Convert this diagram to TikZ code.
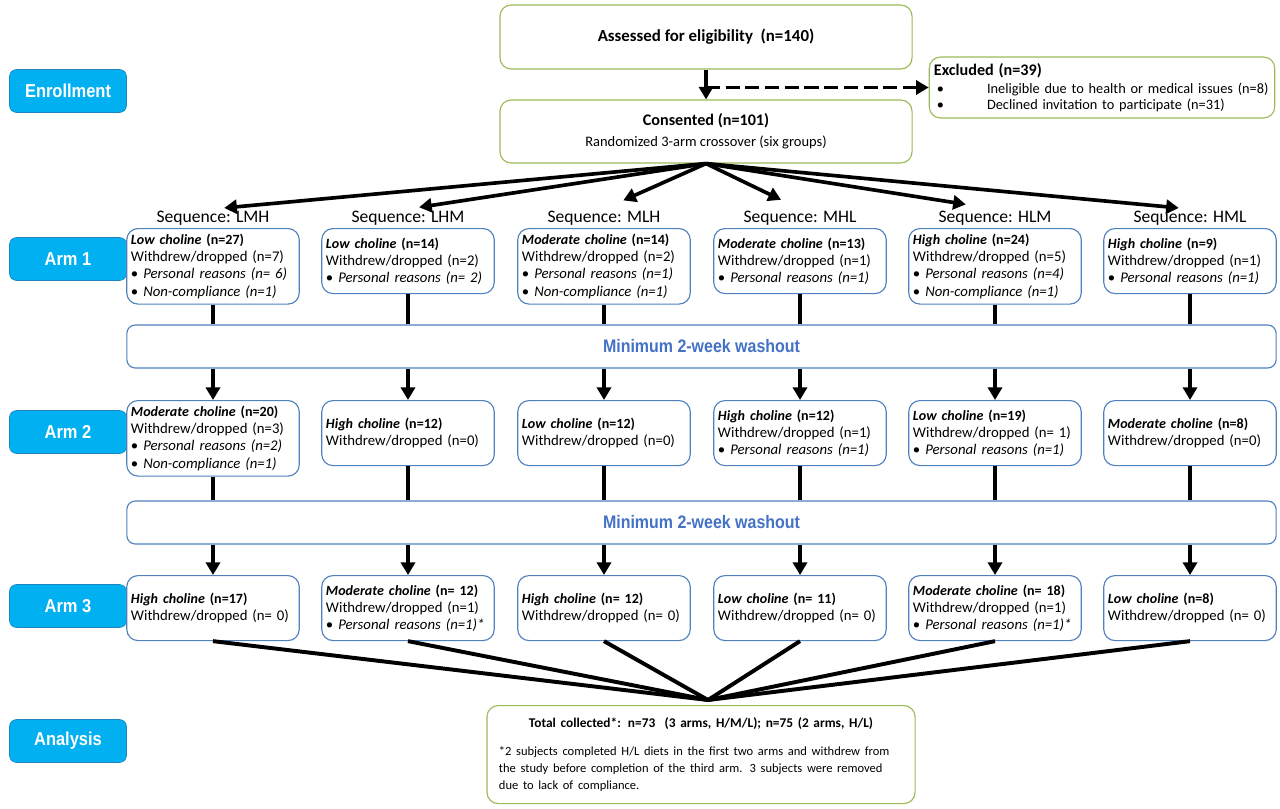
\documentclass[tikz,border=0pt]{standalone}
\usepackage{fontspec}
\setmainfont{Carlito}
\newfontfamily\tagfont[FakeStretch=0.88]{Liberation Sans}
\usepackage{xcolor}
\usepackage{tikz}
\usetikzlibrary{calc, positioning, arrows.meta}
\definecolor{tagBlue}{RGB}{0,176,240}
\definecolor{tagEdge}{RGB}{30,130,190}
\definecolor{boxGreen}{RGB}{155,187,89}
\definecolor{boxBlue}{RGB}{79,129,189}
\definecolor{washText}{RGB}{68,114,196}
\newcommand{\dietHead}[2]{{\fontsize{10}{12.2}\selectfont\textbf{\textit{#1}} \textbf{#2}}}
\tikzset{
    phaseTag/.style={rectangle, rounded corners=5pt, draw=tagEdge, fill=tagBlue, text=white, font=\tagfont\bfseries\fontsize{13.3}{15}\selectfont, minimum width=2.925cm, minimum height=1.075cm},
    flowBox/.style={rectangle, rounded corners=8pt, draw=boxGreen, thick, fill=white, align=center},
    armBox/.style={rectangle, rounded corners=8pt, draw=boxBlue, thick, fill=white, anchor=north, text width=4.1cm, inner xsep=3pt, inner ysep=4pt, minimum height=1.625cm, align=left, font=\fontsize{10.5}{12.2}\selectfont},
    washBar/.style={rectangle, rounded corners=6pt, draw=boxBlue, thick, fill=white, minimum width=28.725cm, minimum height=1.075cm, text=washText, font=\tagfont\bfseries\fontsize{12.9}{15}\selectfont},
    seqLabel/.style={font=\fontsize{12.5}{14}\selectfont, inner sep=1pt},
    arrow/.style={-{Triangle[length=9pt,width=10pt]}, line width=2.6pt},
    dashArrow/.style={-{Triangle[length=9pt,width=10pt]}, line width=2.6pt, dash pattern=on 10pt off 4pt},
    link/.style={line width=2.8pt}
}

\begin{document}
\begin{tikzpicture}[x=0.025cm, y=-0.025cm]
    \useasboundingbox (0,0) rectangle (1280,808);

    % Phase tags
    \node[phaseTag] (Enroll) at (68,91) {Enrollment};
    \node[phaseTag] (ArmOne) at (68,259) {Arm 1};
    \node[phaseTag] (ArmTwo) at (68,432) {Arm 2};
    \node[phaseTag] (ArmThree) at (68,606) {Arm 3};
    \node[phaseTag] (Analysis) at (68,741) {Analysis};

    % Enrollment
    \node[flowBox, minimum width=10.3cm, minimum height=1.6cm, font=\bfseries\fontsize{12}{14}\selectfont] (Assess) at (706,37) {Assessed for eligibility\ \ (n=140)};
    \node[flowBox, align=left, text width=8.4cm, minimum height=1.525cm, inner ysep=2pt, font=\fontsize{10.2}{11.5}\selectfont] (Excl) at (1102,87.5) {{\fontsize{11.5}{13}\selectfont\textbf{Excluded (n=39)}}\\[1pt]
        \hspace*{0.2em}\textbullet\hspace{3em}Ineligible due to health or medical issues (n=8)\\
        \hspace*{0.2em}\textbullet\hspace{3em}Declined invitation to participate (n=31)};
    \node[flowBox, minimum width=10.3cm, minimum height=1.575cm] (Consent) at (706,131.5) {{\fontsize{11.5}{13}\selectfont\textbf{Consented (n=101)}}\\[3pt]
        {\fontsize{10.3}{12}\selectfont Randomized 3-arm crossover (six groups)}};

    \draw[arrow] (Assess) -- (Consent);
    \draw[dashArrow] (Assess.south |- Excl.west) -- (Excl.west);

    % Arm 1
    \node[armBox] (LmhA) at (213,228) {\dietHead{Low choline}{(n=27)}\\ Withdrew/dropped (n=7)\\ \textbullet\ \textit{Personal reasons (n= 6)}\\ \textbullet\ \textit{Non-compliance (n=1)}};
    \node[armBox] (LhmA) at (408,228) {\dietHead{Low choline}{(n=14)}\\ Withdrew/dropped (n=2)\\ \textbullet\ \textit{Personal reasons (n= 2)}};
    \node[armBox] (MlhA) at (604,228) {\dietHead{Moderate choline}{(n=14)}\\ Withdrew/dropped (n=2)\\ \textbullet\ \textit{Personal reasons (n=1)}\\ \textbullet\ \textit{Non-compliance (n=1)}};
    \node[armBox] (MhlA) at (800,228) {\dietHead{Moderate choline}{(n=13)}\\ Withdrew/dropped (n=1)\\ \textbullet\ \textit{Personal reasons (n=1)}};
    \node[armBox] (HlmA) at (995,228) {\dietHead{High choline}{(n=24)}\\ Withdrew/dropped (n=5)\\ \textbullet\ \textit{Personal reasons (n=4)}\\ \textbullet\ \textit{Non-compliance (n=1)}};
    \node[armBox] (HmlA) at (1190,228) {\dietHead{High choline}{(n=9)}\\ Withdrew/dropped (n=1)\\ \textbullet\ \textit{Personal reasons (n=1)}};

    % Sequences
    \node[seqLabel, above=1pt of LmhA] (SeqLmh) {Sequence: LMH};
    \node[seqLabel, above=1pt of LhmA] (SeqLhm) {Sequence: LHM};
    \node[seqLabel, above=1pt of MlhA] (SeqMlh) {Sequence: MLH};
    \node[seqLabel, above=1pt of MhlA] (SeqMhl) {Sequence: MHL};
    \node[seqLabel, above=1pt of HlmA] (SeqHlm) {Sequence: HLM};
    \node[seqLabel, above=1pt of HmlA] (SeqHml) {Sequence: HML};

    \draw[arrow, shorten >=8pt] (Consent.south) -- (SeqLmh.north);
    \draw[arrow, shorten >=8pt] (Consent.south) -- (SeqLhm.north);
    \draw[arrow, shorten >=15pt] (Consent.south) -- (SeqMlh.north);
    \draw[arrow, shorten >=15pt] (Consent.south) -- (SeqMhl.north);
    \draw[arrow, shorten >=21pt] (Consent.south) -- (SeqHlm.north);
    \draw[arrow, shorten >=8pt] (Consent.south) -- (SeqHml.north);

    % Washouts
    \node[washBar] (WashA) at (701.5,346.5) {Minimum 2-week washout};
    \node[washBar] (WashB) at (701.5,522.5) {Minimum 2-week washout};

    % Arm 2
    \node[armBox] (LmhB) at (213,400) {\dietHead{Moderate choline}{(n=20)}\\ Withdrew/dropped (n=3)\\ \textbullet\ \textit{Personal reasons (n=2)}\\ \textbullet\ \textit{Non-compliance (n=1)}};
    \node[armBox] (LhmB) at (408,400) {\dietHead{High choline}{(n=12)}\\ Withdrew/dropped (n=0)};
    \node[armBox] (MlhB) at (604,400) {\dietHead{Low choline}{(n=12)}\\ Withdrew/dropped (n=0)};
    \node[armBox] (MhlB) at (800,400) {\dietHead{High choline}{(n=12)}\\ Withdrew/dropped (n=1)\\ \textbullet\ \textit{Personal reasons (n=1)}};
    \node[armBox] (HlmB) at (995,400) {\dietHead{Low choline}{(n=19)}\\ Withdrew/dropped (n= 1)\\ \textbullet\ \textit{Personal reasons (n=1)}};
    \node[armBox] (HmlB) at (1190,400) {\dietHead{Moderate choline}{(n=8)}\\ Withdrew/dropped (n=0)};

    % Arm 3
    \node[armBox] (LmhC) at (213,575) {\dietHead{High choline}{(n=17)}\\ Withdrew/dropped (n= 0)};
    \node[armBox] (LhmC) at (408,575) {\dietHead{Moderate choline}{(n= 12)}\\ Withdrew/dropped (n=1)\\ \textbullet\ \textit{Personal reasons (n=1)*}};
    \node[armBox] (MlhC) at (604,575) {\dietHead{High choline}{(n= 12)}\\ Withdrew/dropped (n= 0)};
    \node[armBox] (MhlC) at (800,575) {\dietHead{Low choline}{(n= 11)}\\ Withdrew/dropped (n= 0)};
    \node[armBox] (HlmC) at (995,575) {\dietHead{Moderate choline}{(n= 18)}\\ Withdrew/dropped (n=1)\\ \textbullet\ \textit{Personal reasons (n=1)*}};
    \node[armBox] (HmlC) at (1190,575) {\dietHead{Low choline}{(n=8)}\\ Withdrew/dropped (n= 0)};

    % Links through the washouts
    \foreach \seq in {Lmh, Lhm, Mlh, Mhl, Hlm, Hml} {
        \draw[link] (\seq A) -- (\seq A |- WashA.north);
        \draw[arrow] (\seq B |- WashA.south) -- (\seq B);
        \draw[link] (\seq B) -- (\seq B |- WashB.north);
        \draw[arrow] (\seq C |- WashB.south) -- (\seq C);
    }

    % Analysis
    \node[flowBox, anchor=north, align=left, text width=10.1cm, inner xsep=0.3cm, minimum height=2.45cm] (Total) at (701,705) {{\centering\bfseries\fontsize{9.5}{12}\selectfont Total collected*: n=73\ \ (3 arms, H/M/L); n=75 (2 arms, H/L)\par}\vspace{8pt}
        {\fontsize{8.9}{12}\selectfont *2 subjects completed H/L diets in the first two arms and withdrew from\\ the study before completion of the third arm. 3 subjects were removed\\ due to lack of compliance.\par}};

    \coordinate (Join) at (708,700);
    \foreach \seq in {Lmh, Lhm, Mlh, Mhl, Hlm, Hml} {
        \draw[link] (\seq C.south) -- (Join);
    }
\end{tikzpicture}
\end{document}
